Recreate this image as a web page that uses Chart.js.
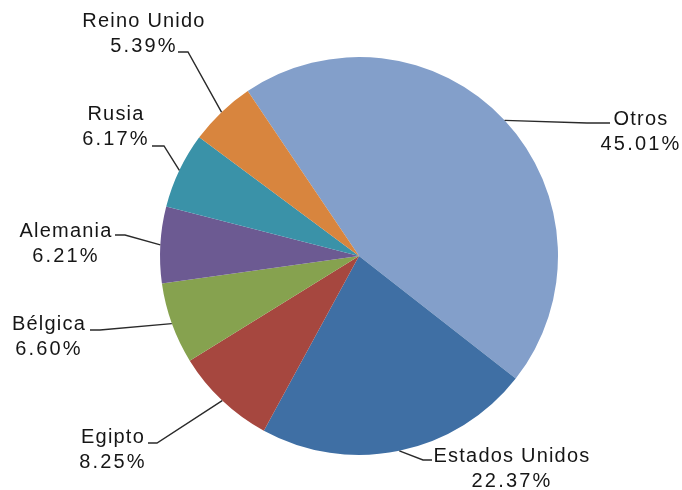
<!DOCTYPE html>
<html>
<head>
<meta charset="utf-8">
<script src="https://cdn.jsdelivr.net/npm/chart.js@4.4.1/dist/chart.umd.min.js"></script>
<style>
  html, body { margin: 0; padding: 0; background: #fff; }
  #wrap { width: 682px; height: 490px; position: relative; }
</style>
</head>
<body>
<div id="wrap"><canvas id="pie"></canvas></div>
<script>
// Country share data (%)
const countries = ["Otros", "Estados Unidos", "Egipto", "Bélgica", "Alemania", "Rusia", "Reino Unido"];
const shares = [45.01, 22.37, 8.25, 6.60, 6.21, 6.17, 5.39];
const shareLabels = ["45.01%", "22.37%", "8.25%", "6.60%", "6.21%", "6.17%", "5.39%"];
const sliceColors = ["#839fca", "#3f6fa4", "#a6473f", "#86a24f", "#6c5a92", "#3a92a8", "#d8853e"];

// label placement: text centre x, first baseline, leader start x/y, elbow x
const labelLayout = [
  { cx: 641, y: 125, lx: 610, ly: 123, ex: 587 },
  { cx: 512, y: 462, lx: 432, ly: 460, ex: 423 },
  { cx: 113, y: 443, lx: 148, ly: 443, ex: 157 },
  { cx: 49,  y: 330, lx: 90,  ly: 330, ex: 100 },
  { cx: 66,  y: 237, lx: 115, ly: 235, ex: 125 },
  { cx: 116, y: 120, lx: 152, ly: 146, ex: 164 },
  { cx: 144, y: 27,  lx: 178, ly: 52,  ex: 188 }
];

const leaderLabels = {
  id: "leaderLabels",
  afterDatasetsDraw(chart) {
    const ctx = chart.ctx;
    const arcs = chart.getDatasetMeta(0).data;
    ctx.save();
    arcs.forEach((arc, i) => {
      const lay = labelLayout[i];
      const mid = (arc.startAngle + arc.endAngle) / 2;
      const px = arc.x + Math.cos(mid) * arc.outerRadius;
      const py = arc.y + Math.sin(mid) * arc.outerRadius;
      ctx.strokeStyle = "#2a2a2a";
      ctx.lineWidth = 1.4;
      ctx.beginPath();
      ctx.moveTo(lay.lx, lay.ly);
      ctx.lineTo(lay.ex, lay.ly);
      ctx.lineTo(px, py);
      ctx.stroke();

      ctx.fillStyle = "#161616";
      ctx.textAlign = "center";
      ctx.textBaseline = "alphabetic";
      ctx.font = "20px 'Liberation Sans', Arial, sans-serif";
      ctx.letterSpacing = "1.2px";
      ctx.fillText(countries[i], lay.cx, lay.y);
      ctx.letterSpacing = "2.2px";
      ctx.fillText(shareLabels[i], lay.cx, lay.y + 25);
    });
    ctx.restore();
  }
};

new Chart(document.getElementById("pie").getContext("2d"), {
  type: "pie",
  data: {
    labels: countries,
    datasets: [{
      data: shares,
      backgroundColor: sliceColors,
      borderWidth: 0
    }]
  },
  options: {
    responsive: true,
    maintainAspectRatio: false,
    animation: false,
    rotation: -34,
    layout: { padding: { top: 57, bottom: 35, left: 160, right: 124 } },
    plugins: {
      legend: { display: false },
      tooltip: { enabled: false }
    }
  },
  plugins: [leaderLabels]
});
</script>
</body>
</html>
